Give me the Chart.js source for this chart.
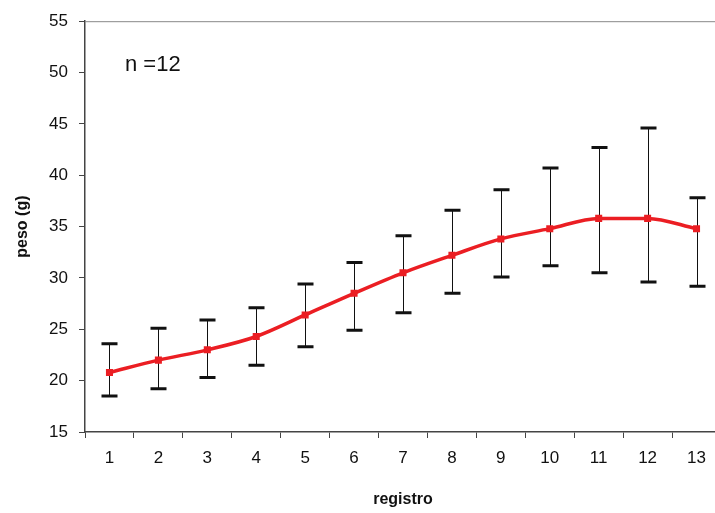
<!DOCTYPE html>
<html>
<head>
<meta charset="utf-8">
<script src="https://cdn.jsdelivr.net/npm/chart.js@4.4.1/dist/chart.umd.min.js"></script>
<style>
	html, body { margin: 0; padding: 0; background: #fff; overflow: hidden; }
	#wrap { width: 740px; height: 513px; }
</style>
</head>
<body>
<div id="wrap"><canvas id="chart"></canvas></div>
<script>
const registros = ['1', '2', '3', '4', '5', '6', '7', '8', '9', '10', '11', '12', '13'];
const pesoMedio = [20.8, 22.0, 23.0, 24.3, 26.4, 28.5, 30.5, 32.2, 33.8, 34.8, 35.8, 35.8, 34.8];
const pesoMax = [23.6, 25.1, 25.9, 27.1, 29.4, 31.5, 34.1, 36.6, 38.6, 40.7, 42.7, 44.6, 37.8];
const pesoMin = [18.5, 19.2, 20.3, 21.5, 23.3, 24.9, 26.6, 28.5, 30.1, 31.2, 30.5, 29.6, 29.2];
const yTicks = [15, 20, 25, 30, 35, 40, 45, 50, 55];

// error bars + frame + n label, drawn before the red line
const errorBars = {
	id: 'errorBars',
	beforeDatasetsDraw(chart) {
		const {ctx, chartArea, scales: {x, y}} = chart;
		ctx.save();
		// top frame line
		ctx.strokeStyle = '#888';
		ctx.lineWidth = 1;
		ctx.beginPath();
		ctx.moveTo(chartArea.left, chartArea.top + 0.5);
		ctx.lineTo(chartArea.right, chartArea.top + 0.5);
		ctx.stroke();

		ctx.strokeStyle = '#111';
		registros.forEach((r, i) => {
			const px = Math.round(x.getPixelForValue(i)) + 0.5;
			const top = y.getPixelForValue(pesoMax[i]);
			const bot = y.getPixelForValue(pesoMin[i]);
			ctx.lineWidth = 1;
			ctx.beginPath();
			ctx.moveTo(px, top);
			ctx.lineTo(px, bot);
			ctx.stroke();
			ctx.lineWidth = 3;
			ctx.beginPath();
			ctx.moveTo(px - 8, top);
			ctx.lineTo(px + 8, top);
			ctx.moveTo(px - 8, bot);
			ctx.lineTo(px + 8, bot);
			ctx.stroke();
		});

		ctx.fillStyle = '#111';
		ctx.font = '22px "Liberation Sans", Arial, sans-serif';
		ctx.textBaseline = 'middle';
		ctx.fillText('n =12', chartArea.left + 40, chartArea.top + 44);
		ctx.restore();
	}
};

new Chart(document.getElementById('chart'), {
	type: 'line',
	data: {
		labels: registros,
		datasets: [{
			data: pesoMedio,
			borderColor: 'rgb(235, 30, 35)',
			backgroundColor: 'rgb(235, 30, 35)',
			borderWidth: 3.5,
			tension: 0.4,
			cubicInterpolationMode: 'monotone',
			pointRadius: 2.5,
			pointStyle: 'rect',
			fill: false
		}]
	},
	options: {
		responsive: true,
		maintainAspectRatio: false,
		animation: false,
		layout: { padding: { top: 19, right: 19, left: 0, bottom: 0 } },
		plugins: {
			legend: { display: false },
			tooltip: { enabled: false }
		},
		scales: {
			x: {
				offset: true,
				grid: { offset: true, drawOnChartArea: false, tickLength: 6, color: '#444' },
				border: { color: '#444', width: 1.5 },
				ticks: { color: '#111', font: { size: 17, family: '"Liberation Sans", Arial, sans-serif' }, padding: 10 },
				title: {
					display: true, text: 'registro', color: '#111',
					font: { size: 16, weight: 'bold', family: '"Liberation Sans", Arial, sans-serif' },
					padding: { top: 14 }
				},
				afterFit: s => { s.height = 81; }
			},
			y: {
				min: 15,
				max: 55,
				afterBuildTicks: s => { s.ticks = yTicks.map(v => ({value: v})); },
				grid: { drawOnChartArea: false, tickLength: 6, color: '#444' },
				border: { color: '#444', width: 1.5 },
				ticks: { color: '#111', font: { size: 17, family: '"Liberation Sans", Arial, sans-serif' }, padding: 11 },
				title: {
					display: true, text: 'peso (g)', color: '#111',
					font: { size: 16, weight: 'bold', family: '"Liberation Sans", Arial, sans-serif' },
					padding: { top: 13, bottom: 6 }
				},
				afterFit: s => { s.width = 85; }
			}
		}
	},
	plugins: [errorBars]
});
</script>
</body>
</html>
